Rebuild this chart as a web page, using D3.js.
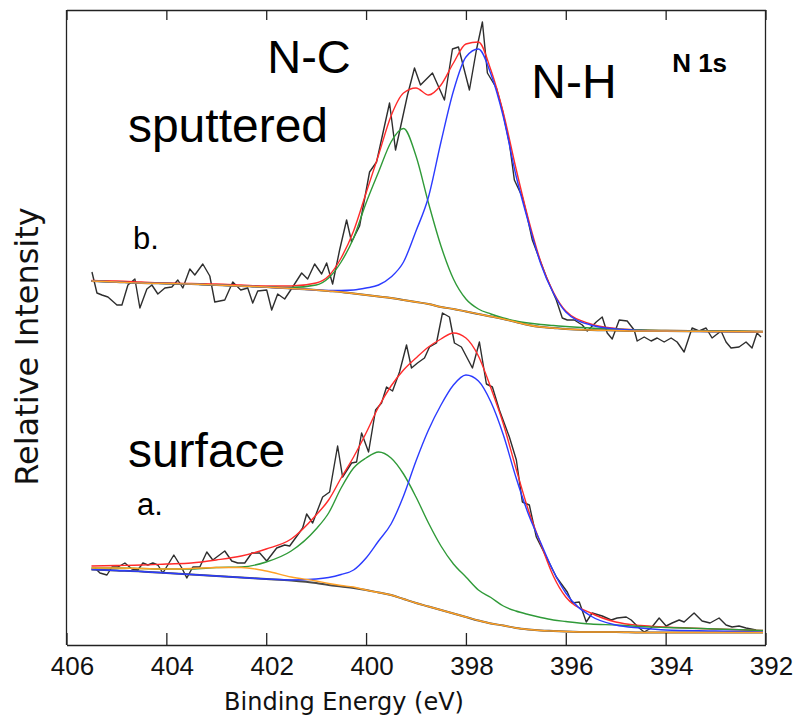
<!DOCTYPE html>
<html>
<head>
<meta charset="utf-8">
<script src="https://cdn.jsdelivr.net/npm/d3@7"></script>
<style>
  html, body { margin: 0; padding: 0; background: #fff; }
  svg { display: block; }
</style>
</head>
<body>
<svg id="chart" width="796" height="716"></svg>
<script>
// N 1s XPS spectra: (b) sputtered and (a) surface, with N-C / N-H peak fits.

const tickEnergies = [406, 404, 402, 400, 398, 396, 394, 392];

// Energy grid (eV) on which the fitted curves are tabulated
const fitEnergy = [405.5, 405, 404.5, 404, 403.5, 403, 402.5, 402, 401.5, 401,
  400.75, 400.5, 400.25, 400, 399.75, 399.5, 399.25, 399, 398.75, 398.5,
  398.25, 398, 397.75, 397.5, 397.25, 397, 396.75, 396.5, 396.25, 396,
  395.5, 395, 394.5, 394, 393, 392.05];

// ---- (b) sputtered ----
const sputBackground = [364, 363, 362, 361.5, 361, 360, 359, 358, 356.5, 355,
  354, 353, 351.5, 350, 348.5, 347, 345, 343, 341, 338,
  336, 333.5, 331, 328.5, 326, 323, 320, 318, 317, 316,
  315, 314.5, 314, 314, 313.5, 313];
const sputNC = [364, 363, 362, 361.5, 361, 360, 359, 358, 357.5, 360,
  367, 383, 407, 442, 473, 503, 516.5, 489, 442, 399,
  366, 346, 336, 331, 327, 324, 322, 320.5, 319.5, 318.5,
  317, 316, 315, 314.5, 314, 313.5];
const sputNH = [364, 363, 362, 361.5, 361, 360, 359, 358, 356.5, 355,
  354.5, 354.5, 355, 357, 360, 368, 383, 414, 448, 503,
  554, 588, 596, 571, 528, 470, 423, 381, 352, 333,
  320, 316, 314.5, 314, 313.5, 313];
const sputEnvelope = [364.5, 364, 363, 362, 361.5, 361, 360, 359, 359, 362,
  369, 387, 414, 452, 490, 529, 552, 557, 550, 560,
  582, 601, 603, 575, 532, 477, 426, 383, 353, 334,
  321, 316.5, 315, 314.5, 314, 313.5];
const sputRawEnergy = [405.49, 405.39, 405.29, 405.17, 404.99, 404.89, 404.77, 404.63, 404.53, 404.39,
  404.29, 404.17, 404.03, 403.89, 403.77, 403.67, 403.53, 403.43, 403.27, 403.13,
  403.03, 402.83, 402.67, 402.51, 402.37, 402.27, 402.17, 401.99, 401.89, 401.77,
  401.63, 401.47, 401.29, 401.17, 401.03, 400.89, 400.79, 400.67, 400.53, 400.39,
  400.29, 400.13, 399.93, 399.79, 399.53, 399.41, 399.17, 399.03, 398.91, 398.67,
  398.43, 398.27, 398.15, 397.93, 397.79, 397.67, 397.57, 397.39, 397.27, 397.13,
  397.03, 396.87, 396.77, 396.67, 396.39, 396.19, 396.07, 395.97, 395.83, 395.67,
  395.57, 395.39, 395.27, 395.17, 395.07, 394.93, 394.77, 394.63, 394.57, 394.43,
  394.29, 394.17, 394.03, 393.89, 393.77, 393.63, 393.47, 393.33, 393.19, 393.07,
  392.89, 392.79, 392.69, 392.53, 392.39, 392.27, 392.17, 392.09];
const sputRawCounts = [373, 352, 350, 348, 340, 340, 360, 366, 337, 356,
  360, 351, 357, 358, 365, 357, 376, 370, 381, 369,
  343, 345, 363, 355, 357, 342, 354, 355, 335, 351,
  346, 358, 372, 366, 381, 371, 382, 361, 395, 425,
  403, 419, 473, 483, 542, 495, 550, 577, 560, 572,
  545, 596, 598, 555, 595, 623, 572, 557, 535, 502,
  465, 448, 428, 405, 368, 345, 327, 325, 325, 320,
  314, 323, 328, 312, 306, 325, 324, 315, 304, 308,
  304, 307, 303, 307, 303, 293, 317, 314, 317, 307,
  314, 303, 297, 298, 303, 297, 312, 308];

// ---- (a) surface ----
const surfBackground = [77, 77, 76.5, 76, 76.5, 77.5, 77.5, 74, 68, 64,
  61.5, 59.5, 58, 55, 52.5, 50, 46, 42, 38.5, 35,
  31.5, 28, 24.5, 21.5, 19.5, 17, 15.5, 14.5, 14, 13.5,
  13, 13, 12.5, 12.5, 12.5, 12.5];
const surfShirley = [75.5, 74.5, 73.5, 72, 70.5, 69, 67.5, 66, 64.5, 62,
  60, 58.5, 57, 55, 52.5, 50, 46, 42, 38.5, 35,
  31.5, 28, 24.5, 21.5, 19.5, 17, 15.5, 14.5, 14, 13.5,
  13, 13, 12.5, 12.5, 12.5, 12.5];
const surfNC = [77, 77, 76.5, 76, 76, 77.5, 78, 83, 94, 116,
  132, 157, 177, 187, 193, 187, 171, 148, 122, 99,
  81, 68, 55, 47.5, 39, 34, 30.5, 27.5, 25, 23.5,
  21, 20, 18.5, 17.5, 16, 14.5];
const surfNH = [75.5, 74.5, 73.5, 72, 70.5, 69, 67.5, 66, 65, 66,
  67.5, 70.5, 75, 87, 104, 121, 149, 184, 215, 240,
  260, 270, 264, 243, 210, 168, 131, 102, 74, 52,
  29, 20, 17, 15, 14, 13];
const surfEnvelope = [79, 79.5, 80, 81, 82, 85, 89, 96, 106, 130,
  145, 167, 188, 212, 238, 259, 275, 287, 298, 306,
  312, 307, 289, 257, 221, 177, 135, 101, 69, 48,
  32, 23, 19.5, 18, 16, 14.5];
const surfRawEnergy = [405.43, 405.33, 405.19, 405.09, 404.97, 404.83, 404.69, 404.57, 404.47, 404.37,
  404.27, 404.17, 404.07, 403.85, 403.69, 403.59, 403.47, 403.33, 403.19, 403.07,
  402.83, 402.69, 402.57, 402.43, 402.29, 402.13, 401.99, 401.79, 401.63, 401.53,
  401.37, 401.27, 401.19, 401.07, 400.87, 400.73, 400.57, 400.47, 400.29, 400.19,
  400.09, 399.95, 399.81, 399.69, 399.59, 399.47, 399.33, 399.19, 399.09, 398.97,
  398.83, 398.73, 398.59, 398.47, 398.33, 398.23, 398.09, 397.87, 397.73, 397.59,
  397.47, 397.33, 397.13, 396.99, 396.87, 396.73, 396.59, 396.39, 396.19, 395.97,
  395.87, 395.73, 395.59, 395.47, 395.27, 395.09, 394.97, 394.79, 394.69, 394.53,
  394.43, 394.29, 394.13, 393.99, 393.87, 393.73, 393.63, 393.43, 393.27, 393.11,
  392.93, 392.79, 392.67, 392.53, 392.39, 392.19];
const surfRawCounts = [77, 72, 70, 78, 78, 82, 76, 75, 82, 80,
  82, 80, 72, 90, 77, 67, 78, 78, 93, 85,
  94, 84, 82, 82, 92, 92, 84, 97, 100, 99,
  110, 117, 131, 122, 148, 153, 199, 168, 182, 183,
  212, 193, 235, 242, 258, 254, 273, 300, 277, 282,
  287, 298, 302, 332, 328, 302, 298, 277, 303, 261,
  258, 235, 208, 185, 143, 140, 108, 88, 68, 53,
  42, 43, 23, 32, 29, 25, 27, 28, 25, 17,
  13, 17, 27, 19, 22, 25, 23, 32, 24, 22,
  27, 20, 18, 19, 17, 15];

// Annotations
const peakLabels = [
  { text: "N-C", e: 401.98, c: 572, size: 47 },
  { text: "N-H", e: 396.69, c: 547, size: 48 }
];
const sampleLabels = [
  { text: "sputtered", e: 404.77, c: 503, size: 48 },
  { text: "b.", e: 404.67, c: 396, size: 31 },
  { text: "surface", e: 404.77, c: 178, size: 48 },
  { text: "a.", e: 404.59, c: 130, size: 31 }
];
const regionLabel = { text: "N 1s", e: 393.87, c: 573, size: 26 };

const colors = {
  raw: "#2e2e2e",
  shirley: "#4a4a4a",
  envelope: "#ff2b2b",
  nc: "#2f9a38",
  nh: "#2b3bff",
  background: "#ffa126",
  frame: "#222"
};

const svg = d3.select("#chart");
const x = d3.scaleLinear().domain([406, 392]).range([66.5, 765.5]);
const y = d3.scaleLinear().domain([0, 635]).range([645, 10]);

const smooth = d3.line().x(d => x(d[0])).y(d => y(d[1])).curve(d3.curveMonotoneX);
const jagged = d3.line().x(d => x(d[0])).y(d => y(d[1]));

function drawLine(energies, values, color, width, gen) {
  svg.append("path")
    .datum(d3.zip(energies, values))
    .attr("d", gen)
    .attr("fill", "none")
    .attr("stroke", color)
    .attr("stroke-width", width)
    .attr("stroke-linejoin", "round");
}

function drawSpectrum(s) {
  drawLine(s.rawE, s.rawI, colors.raw, 1.4, jagged);
  drawLine(fitEnergy, s.shirley, colors.shirley, 2.0, smooth);
  drawLine(fitEnergy, s.env, colors.envelope, 1.4, smooth);
  drawLine(fitEnergy, s.nc, colors.nc, 1.4, smooth);
  drawLine(fitEnergy, s.nh, colors.nh, 1.4, smooth);
  drawLine(fitEnergy, s.bg, colors.background, 1.4, smooth);
}

drawSpectrum({ rawE: sputRawEnergy, rawI: sputRawCounts, shirley: sputBackground,
  bg: sputBackground, nc: sputNC, nh: sputNH, env: sputEnvelope });
drawSpectrum({ rawE: surfRawEnergy, rawI: surfRawCounts, shirley: surfShirley,
  bg: surfBackground, nc: surfNC, nh: surfNH, env: surfEnvelope });

// Frame and axes
const bottomAxis = d3.axisBottom(x)
  .tickValues(tickEnergies)
  .tickFormat(d3.format("d"))
  .tickSizeInner(-12)
  .tickSizeOuter(0)
  .tickPadding(12);
const gb = svg.append("g").attr("transform", `translate(0,${y(0)})`).call(bottomAxis);
gb.select(".domain").attr("stroke", colors.frame).attr("stroke-width", 1.3);
gb.selectAll(".tick line").attr("stroke", colors.frame).attr("stroke-width", 1.3);
gb.selectAll(".tick text")
  .attr("x", 5.5)
  .attr("fill", "#111")
  .style("font-family", "'Liberation Sans', Arial, sans-serif")
  .style("font-size", "26px");

const topAxis = d3.axisTop(x)
  .tickValues(tickEnergies)
  .tickFormat(() => "")
  .tickSizeInner(-10)
  .tickSizeOuter(0);
const gt = svg.append("g").attr("transform", `translate(0,${y(635)})`).call(topAxis);
gt.select(".domain").attr("stroke", colors.frame).attr("stroke-width", 1.3);
gt.selectAll(".tick line").attr("stroke", colors.frame).attr("stroke-width", 1.3);

[406, 392].forEach(e => {
  svg.append("line")
    .attr("x1", x(e)).attr("x2", x(e))
    .attr("y1", y(635)).attr("y2", y(0))
    .attr("stroke", colors.frame).attr("stroke-width", 1.3);
});

// Axis titles
svg.append("text")
  .attr("x", 344).attr("y", 710)
  .attr("text-anchor", "middle")
  .style("font-family", "'DejaVu Sans', Verdana, sans-serif")
  .style("font-size", "24px")
  .attr("fill", "#111")
  .text("Binding Energy (eV)");

svg.append("text")
  .attr("transform", "translate(37.5,346.5) rotate(-90)")
  .attr("text-anchor", "middle")
  .style("font-family", "'DejaVu Sans', Verdana, sans-serif")
  .style("font-size", "32px")
  .attr("fill", "#111")
  .text("Relative Intensity");

// Annotations
const ann = svg.append("g")
  .style("font-family", "'Liberation Sans', Arial, sans-serif")
  .attr("fill", "#000");
peakLabels.concat(sampleLabels).forEach(d => {
  ann.append("text")
    .attr("x", x(d.e)).attr("y", y(d.c))
    .style("font-size", d.size + "px")
    .text(d.text);
});
ann.append("text")
  .attr("x", x(regionLabel.e)).attr("y", y(regionLabel.c))
  .style("font-size", regionLabel.size + "px")
  .style("font-weight", "bold")
  .text(regionLabel.text);
</script>
</body>
</html>
